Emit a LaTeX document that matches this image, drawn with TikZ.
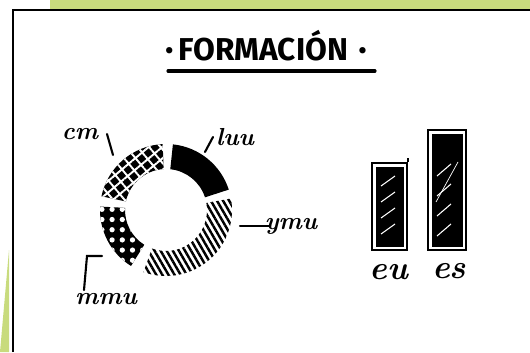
\documentclass[tikz,border=0pt]{standalone}
\usepackage{fontspec}
\newfontfamily\titlefont{Fira Sans}
\usetikzlibrary{patterns.meta,calc,positioning}
\definecolor{leaf}{RGB}{200,219,125}
% one piece of the ring, centre (c)
\newcommand{\donutseg}[2]{($(c)+(#1:66)$) arc[start angle=#1,end angle=#2,radius=66] -- ($(c)+(#2:41)$) arc[start angle=#2,end angle=#1,radius=41] -- cycle}
\newcommand{\titledot}{\raisebox{1.6pt}{\fontsize{13}{13}\selectfont•}}

\begin{document}
\begin{tikzpicture}[x=0.02cm,y=0.02cm,
		scribble/.style={font=\fontsize{14}{14}\selectfont\bfseries\itshape,inner sep=0pt},
		lead/.style={line width=1.2pt,line cap=round},
		barbox/.style={draw,line width=1pt,inner sep=0pt},
		bartxt/.style={font=\fontsize{19}{19}\selectfont\bfseries\itshape,inner sep=0pt}]
		\useasboundingbox (0,0) rectangle (530,352);
		\fill[leaf] (50,343) rectangle (530,352);
		\fill[leaf] (0,0) -- (9,0) -- (9,102) -- cycle;
		\draw[line width=1.2pt] (13,0) -- (13,342) -- (530,342);
		\node[font=\titlefont\bfseries\fontsize{18}{18}\selectfont,inner sep=0pt] (title) at (266,306) {\titledot\,FORMACIÓN\hspace{6pt}\titledot};
		\draw[line width=1.8pt,line cap=round] (168,281) -- (375,281);
		% ring
		\coordinate (c) at (166,142);
		\fill \donutseg{18}{84};
		\fill[pattern={Lines[angle=-60,distance=3pt,line width=1.4pt]}] \donutseg{-110}{10};
		\fill \donutseg{177}{238};
		\fill[pattern={Dots[radius=1.5pt,distance=5.8pt]},pattern color=white] \donutseg{177}{238};
		\fill \donutseg{93}{168};
		\fill[pattern={Hatch[angle=40,distance=5pt,line width=1.1pt]},pattern color=white] \donutseg{93}{168};
		% labels round the ring
		\node[scribble] (lblA) at (80,218) {cm};
		\coordinate (tA1) at (107,218);
		\coordinate (tA2) at (113,197);
		\draw[lead] (tA1) -- (tA2);
		\node[scribble] (lblB) at (235,215) {luu};
		\coordinate (tB1) at (205,200);
		\coordinate (tB2) at (213,215);
		\draw[lead] (tB1) -- (tB2);
		\node[scribble] (lblC) at (291,126) {ymu};
		\coordinate (tC1) at (240,126);
		\coordinate (tC2) at (270,126);
		\draw[lead] (tC1) -- (tC2);
		\node[scribble] (lblD) at (106,53) {mmu};
		\coordinate (tD1) at (84,62);
		\coordinate (tD2) at (87,96);
		\coordinate (tD3) at (102,96);
		\draw[lead] (tD1) -- (tD2) -- (tD3);
		% bars
		\node[barbox,minimum width=0.7cm,minimum height=1.74cm] (barEU) at (389.5,145.5) {};
		\node[barbox,minimum width=0.76cm,minimum height=2.4cm] (barES) at (447,162) {};
		\draw[line width=1pt] (barEU.north east) -- ++(0,4);
		\fill (375.5,105.5) rectangle (403.5,185.5);
		\fill (431.5,105.5) rectangle (462.5,218.5);
		\foreach \y in {118,134,150,166}
			\draw[white,line width=0.6pt] (381,\y) -- ++(14,10);
		\foreach \y in {116,136,156,176}
			\draw[white,line width=0.6pt] (437,\y) -- ++(14,12);
		\draw[white,line width=0.4pt] (436,150) -- (458,190);
		\node[bartxt] (lblEU) at (389,80) {eu};
		\node[bartxt] (lblES) at (449,81) {es};
	\end{tikzpicture}
\end{document}
